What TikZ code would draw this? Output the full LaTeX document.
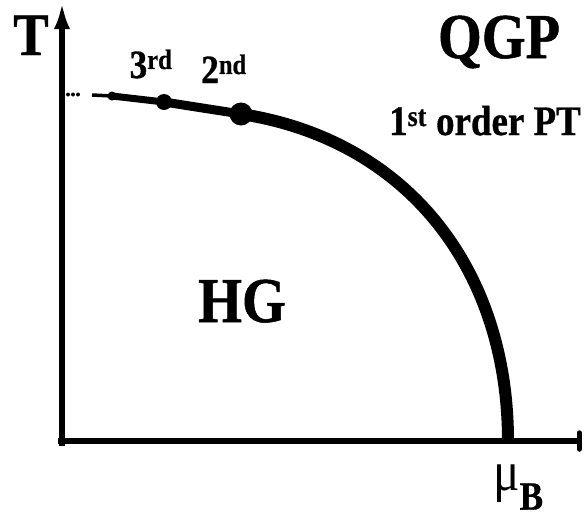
\documentclass[tikz,border=0pt]{standalone}
\usepackage{fontspec}
\setmainfont{Liberation Serif}[FakeStretch=0.88,BoldFeatures={FakeBold=0.8}]
\usetikzlibrary{arrows.meta}
\newcommand{\pxsize}[1]{\fontsize{#1}{#1}\selectfont}

\begin{document}
\begin{tikzpicture}[x=1pt,y=-1pt,>=Stealth,
  lbl/.style={inner sep=0pt,anchor=base,font=\bfseries},
  axis/.style={line width=5.5pt}]
  \useasboundingbox (0,0) rectangle (586,517);
  % axes
  \coordinate (ybot) at (62,446);
  \coordinate (ytip) at (62,2);
  \coordinate (xbeg) at (58,441);
  \coordinate (xtip) at (582,441);
  \draw[axis,-{Latex[length=27pt,width=16pt]}] (ybot) -- (ytip);
  \draw[axis,-{Bar[width=16pt,round]}] (xbeg) -- (xtip);
  % transition line
  \coordinate (start) at (92,95);
  \coordinate (cp3) at (112,96);
  \coordinate (cp2) at (164,102);
  \coordinate (cp1) at (241,114);
  \coordinate (muend) at (508,441);
  \foreach \x in {68,73,78} \fill (\x,94.5) circle (2pt);
  \draw[line width=3.5pt] (start) -- (cp3);
  \draw[line width=7pt] (cp3) -- (cp2);
  \draw[line width=9pt] (cp2) -- (cp1);
  \draw[line width=12pt] (cp1) .. controls (409,140) and (508,271) .. (muend);
  \fill (cp3) circle (4.5pt);
  \fill (cp2) circle (8pt);
  \fill (cp1) circle (11.5pt);
  % labels
  \node[lbl] (tlab) at (31,55) {\pxsize{60}T};
  \node[lbl] (qgp) at (499,58) {\pxsize{64}QGP};
  \node[lbl] (hg) at (242,322) {\pxsize{64}HG};
  \node[lbl] (first) at (485,135) {\pxsize{42}1\textsuperscript{st} order PT};
  \node[lbl] (third) at (151,78) {\pxsize{40}3\textsuperscript{rd}};
  \node[lbl] (second) at (224,83) {\pxsize{40}2\textsuperscript{nd}};
  \node[lbl,anchor=base west] (mub) at (493,490)
    {\pxsize{56}\mdseries μ\raisebox{-0.35em}{\pxsize{40}\bfseries B}};
\end{tikzpicture}
\end{document}
